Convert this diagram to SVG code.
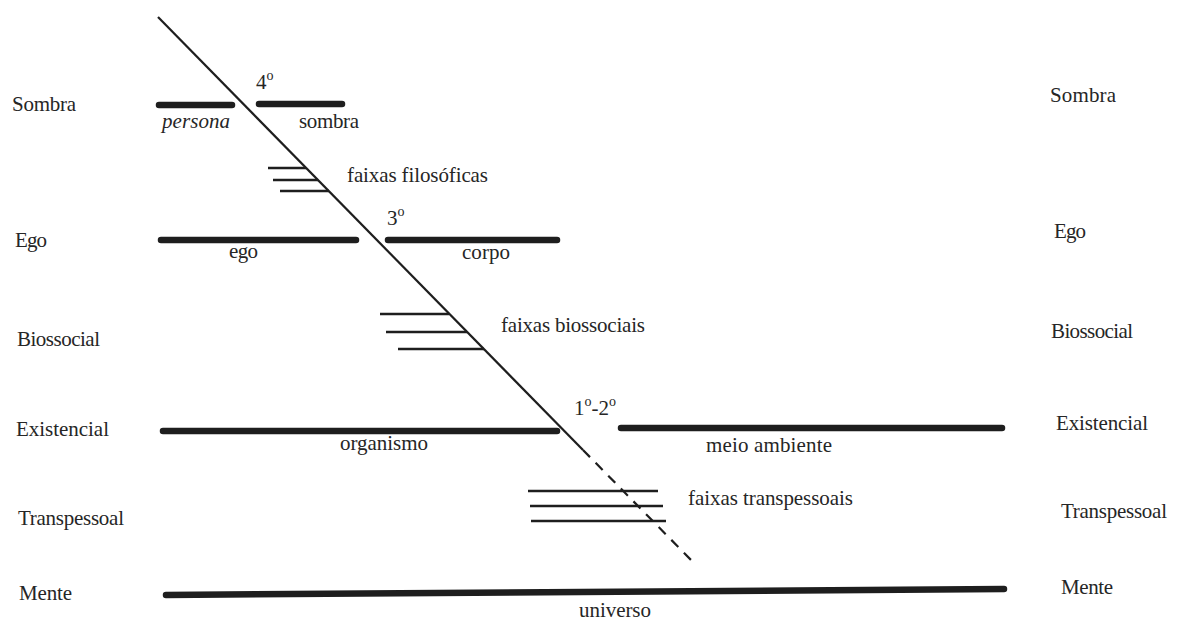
<svg xmlns="http://www.w3.org/2000/svg" width="1177" height="621" viewBox="0 0 1177 621">
<style>
text{font-family:'Liberation Serif','DejaVu Serif','Times New Roman',serif;font-size:21px;fill:#262626}
.bar{stroke:#1e1e1e;stroke-width:6.5;stroke-linecap:round;fill:none}
.thin{stroke:#1e1e1e;stroke-width:2.5;fill:none}
.diag{stroke:#1e1e1e;stroke-width:2.2;fill:none}
.sup{font-size:14px}
</style>
<rect width="1177" height="621" fill="#ffffff"/>
<g id="levels-left" font-family="Liberation Serif, serif">
<text x="12" y="111" textLength="64">Sombra</text>
<text x="15" y="247" textLength="32">Ego</text>
<text x="17" y="346" textLength="83">Biossocial</text>
<text x="16" y="436" textLength="93">Existencial</text>
<text x="18" y="525" textLength="106">Transpessoal</text>
<text x="19" y="600" textLength="53">Mente</text>
</g>
<g id="levels-right" font-family="Liberation Serif, serif">
<text x="1050" y="102" textLength="66">Sombra</text>
<text x="1054" y="238" textLength="32">Ego</text>
<text x="1051" y="338" textLength="82">Biossocial</text>
<text x="1056" y="430" textLength="92">Existencial</text>
<text x="1061" y="518" textLength="106">Transpessoal</text>
<text x="1061" y="594" textLength="52">Mente</text>
</g>
<g id="connectors">
<line class="diag" x1="158" y1="17" x2="583" y2="450"/>
<line class="diag" x1="583" y1="450" x2="693" y2="562" stroke-dasharray="10 8"/>
</g>
<g id="sombra-level" font-family="Liberation Serif, serif">
<line class="bar" x1="159" y1="105" x2="232" y2="105"/>
<line class="bar" x1="259" y1="104" x2="342" y2="104"/>
<text x="162" y="128" font-style="italic" textLength="68">persona</text>
<text x="299" y="128" textLength="60">sombra</text>
<text x="256" y="89">4<tspan class="sup" dy="-9">o</tspan></text>
</g>
<g id="faixas-filosoficas" font-family="Liberation Serif, serif">
<line class="thin" x1="268" y1="168" x2="306" y2="168"/>
<line class="thin" x1="273" y1="180" x2="318" y2="180"/>
<line class="thin" x1="280" y1="191" x2="329" y2="191"/>
<text x="347" y="182" textLength="141">faixas filosóficas</text>
</g>
<g id="ego-level" font-family="Liberation Serif, serif">
<line class="bar" x1="161" y1="240" x2="356" y2="240"/>
<line class="bar" x1="388" y1="240" x2="557" y2="240"/>
<text x="229" y="258" textLength="29">ego</text>
<text x="462" y="259" textLength="48">corpo</text>
<text x="387" y="225">3<tspan class="sup" dy="-9">o</tspan></text>
</g>
<g id="faixas-biossociais" font-family="Liberation Serif, serif">
<line class="thin" x1="380" y1="314" x2="449" y2="314"/>
<line class="thin" x1="386" y1="332" x2="467" y2="332"/>
<line class="thin" x1="398" y1="349" x2="484" y2="349"/>
<text x="501" y="332" textLength="144">faixas biossociais</text>
</g>
<g id="existencial-level" font-family="Liberation Serif, serif">
<line class="bar" x1="163" y1="431" x2="557" y2="431"/>
<line class="bar" x1="621" y1="428" x2="1002" y2="428"/>
<text x="340" y="450" textLength="88">organismo</text>
<text x="706" y="452" textLength="126">meio ambiente</text>
<text x="574" y="415">1<tspan class="sup" dy="-9">o</tspan><tspan dy="9">-2</tspan><tspan class="sup" dy="-9">o</tspan></text>
</g>
<g id="faixas-transpessoais" font-family="Liberation Serif, serif">
<line class="thin" x1="528" y1="491" x2="658" y2="491"/>
<line class="thin" x1="530" y1="506" x2="663" y2="506"/>
<line class="thin" x1="531" y1="521" x2="666" y2="521"/>
<text x="688" y="505" textLength="165">faixas transpessoais</text>
</g>
<g id="mente-level" font-family="Liberation Serif, serif">
<line class="bar" x1="166" y1="595" x2="1004" y2="589" stroke-width="7"/>
<text x="579" y="617" textLength="72">universo</text>
</g>
</svg>
